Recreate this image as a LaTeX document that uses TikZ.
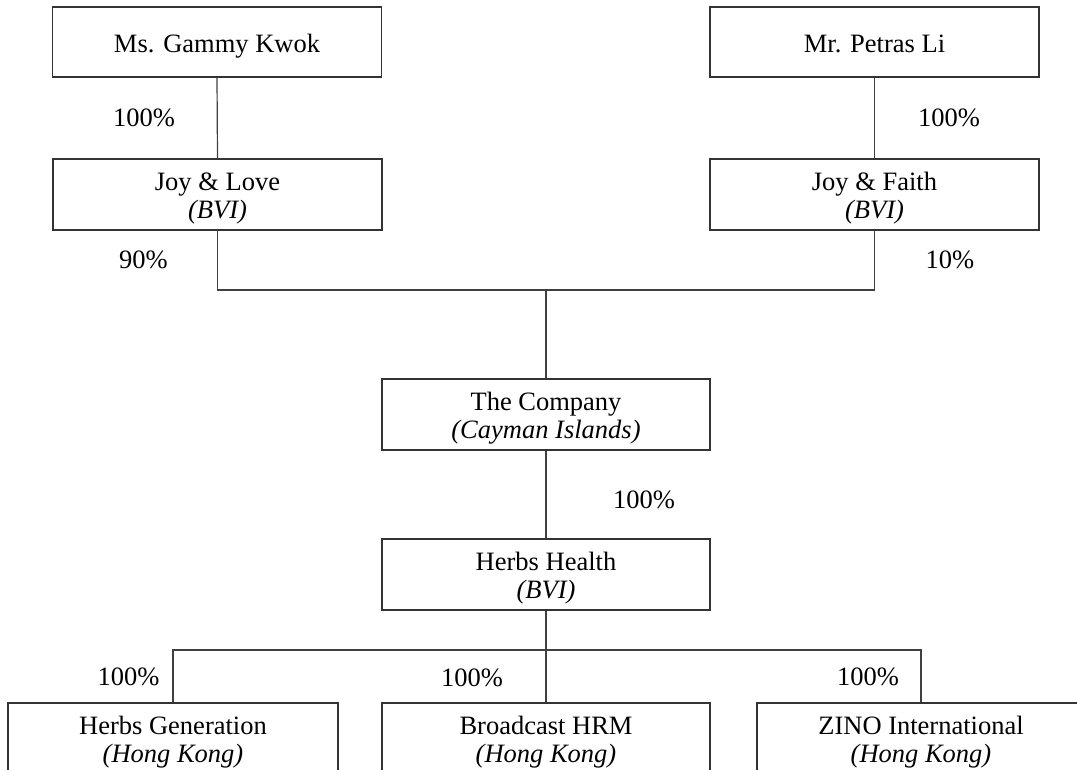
\documentclass[tikz,border=0pt]{standalone}
\usepackage{fontspec}
\setmainfont{Liberation Serif}
\begin{document}
\begin{tikzpicture}[x=1pt,y=-1pt,
  box/.style={draw=black!80, line width=1.2pt, rectangle, minimum width=329pt, minimum height=71pt, inner sep=0pt, align=center, text height=54pt, text depth=6pt, font=\fontsize{26.5}{28}\selectfont},
  onebox/.style={box, text height=26pt, text depth=6pt},
  pct/.style={inner sep=0pt, font=\fontsize{26.5}{28}\selectfont},
  conn/.style={draw=black!75, line width=1.2pt}]
\clip (0,0) rectangle (1077,769);
\fill[white] (0,0) rectangle (1077,769);
\node[onebox, minimum height=70pt] (gammy) at (217,42) {Ms. Gammy Kwok};
\node[onebox, minimum height=70pt] (petras) at (874.5,42) {Mr. Petras Li};
\node[box] (joylove) at (217.5,194.5) {Joy \& Love\\\textit{(BVI)}};
\node[box] (joyfaith) at (874.5,194.5) {Joy \& Faith\\\textit{(BVI)}};
\node[box, minimum width=328pt] (company) at (546,414.5) {The Company\\\textit{(Cayman Islands)}};
\node[box, minimum width=328pt] (hh) at (546,574.5) {Herbs Health\\\textit{(BVI)}};
\node[box, minimum width=330pt] (hg) at (173,738.5) {Herbs Generation\\\textit{(Hong Kong)}};
\node[box, minimum width=328pt] (bhrm) at (546,738.5) {Broadcast HRM\\\textit{(Hong Kong)}};
\node[box, minimum width=328pt] (zino) at (921,738.5) {ZINO International\\\textit{(Hong Kong)}};
\coordinate (bus1) at (546,290);
\coordinate (bus2) at (546,650);
\draw[conn] (gammy.south) -- (joylove.north);
\draw[conn] (petras.south) -- (joyfaith.north);
\draw[conn] (joylove.south) |- (bus1) -| (joyfaith.south);
\draw[conn] (bus1) -- (company.north);
\draw[conn] (company.south) -- (hh.north);
\draw[conn] (hh.south) -- (bhrm.north);
\draw[conn] (hg.north) |- (bus2) -| (zino.north);
\node[pct] (p1) at (144,118) {100\%};
\node[pct] (p2) at (949,118) {100\%};
\node[pct] (p3) at (143.5,260) {90\%};
\node[pct] (p4) at (950,260) {10\%};
\node[pct] (p5) at (644,500) {100\%};
\node[pct] (p6) at (128.5,677) {100\%};
\node[pct] (p7) at (472,678) {100\%};
\node[pct] (p8) at (868,677) {100\%};
\end{tikzpicture}
\end{document}
